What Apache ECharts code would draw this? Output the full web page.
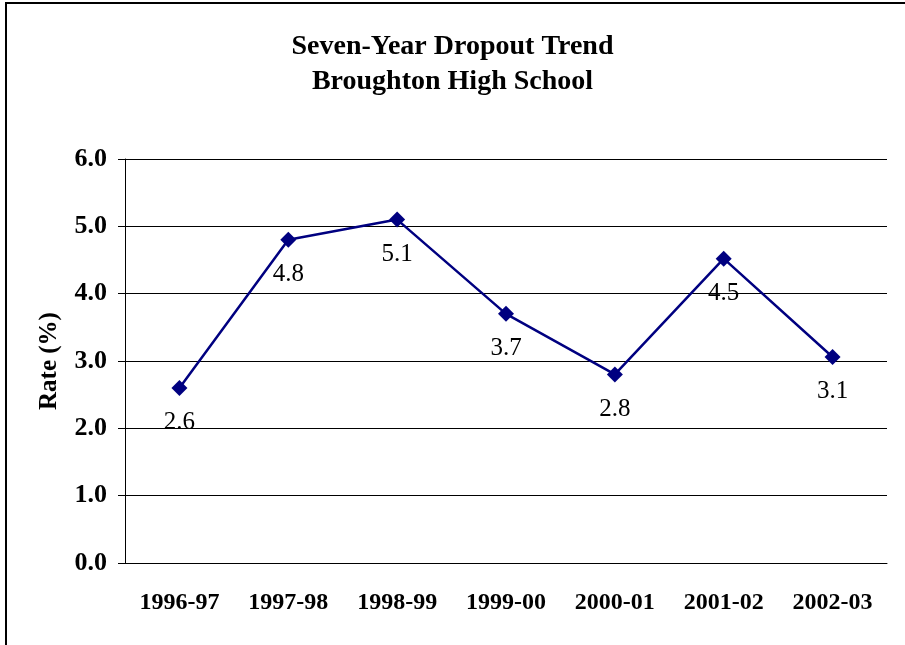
<!DOCTYPE html>
<html>
<head>
<meta charset="utf-8">
<script src="https://cdn.jsdelivr.net/npm/echarts@6/dist/echarts.min.js"></script>
<style>
  html, body { margin: 0; padding: 0; background: #fff; }
  #chart { width: 905px; height: 645px; }
  .frame { position: absolute; left: 5px; top: 2px; width: 905px; height: 650px;
           border-left: 2px solid #000; border-top: 2px solid #000; pointer-events: none; }
</style>
</head>
<body>
<div id="chart"></div>
<div class="frame"></div>
<script>
  // 数据
  var years = ['1996-97', '1997-98', '1998-99', '1999-00', '2000-01', '2001-02', '2002-03'];
  var rates = [2.6, 4.8, 5.1, 3.7, 2.8, 4.52, 3.06];
  var yTicks = [0, 1, 2, 3, 4, 5, 6];

  var serif = '"Liberation Serif", "Times New Roman", serif';
  var myChart = echarts.init(document.getElementById('chart'));

  var option = {
    animation: false,
    title: {
      text: 'Seven-Year Dropout Trend\nBroughton High School',
      left: 'center',
      top: 24,
      textStyle: {
        fontFamily: serif,
        fontWeight: 'bold',
        fontSize: 28,
        lineHeight: 35,
        color: '#000'
      }
    },
    grid: { left: 125, right: 18, top: 159, bottom: 82 },
    xAxis: {
      type: 'category',
      data: years,
      boundaryGap: true,
      axisLine: { lineStyle: { color: '#000', width: 1 } },
      axisTick: { length: 7, lineStyle: { color: '#000' } },
      axisLabel: {
        margin: 28,
        fontFamily: serif,
        fontWeight: 'bold',
        fontSize: 24,
        color: '#000'
      }
    },
    yAxis: {
      type: 'value',
      min: yTicks[0],
      max: yTicks[yTicks.length - 1],
      interval: 1,
      name: 'Rate (%)',
      nameLocation: 'middle',
      nameGap: 63,
      nameTextStyle: {
        fontFamily: serif,
        fontWeight: 'bold',
        fontSize: 25,
        color: '#000'
      },
      axisLine: { show: true, lineStyle: { color: '#000', width: 1 } },
      axisTick: { show: true, length: 7, lineStyle: { color: '#000' } },
      splitLine: { show: true, lineStyle: { color: '#000', width: 1 } },
      axisLabel: {
        margin: 18,
        fontFamily: serif,
        fontWeight: 'bold',
        fontSize: 26,
        color: '#000',
        formatter: function (v) { return v.toFixed(1); }
      }
    },
    series: [{
      type: 'line',
      data: rates,
      symbol: 'diamond',
      symbolSize: 16,
      itemStyle: { color: '#000080' },
      lineStyle: { color: '#000080', width: 2.5 },
      label: {
        show: true,
        position: 'bottom',
        distance: 14,
        fontFamily: serif,
        fontSize: 25,
        color: '#000',
        formatter: function (p) { return p.value.toFixed(1); }
      }
    }]
  };

  myChart.setOption(option);
  window.onresize = () => myChart.resize();
</script>
</body>
</html>
